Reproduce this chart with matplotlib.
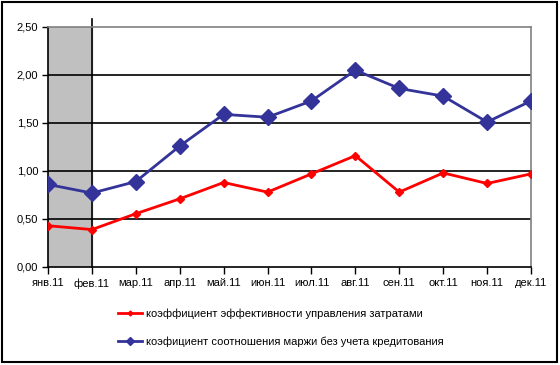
import matplotlib
matplotlib.use('Agg')
import matplotlib.pyplot as plt
from matplotlib.patches import Rectangle
from matplotlib.ticker import FuncFormatter, MultipleLocator

months = ['янв.11', 'фев.11', 'мар.11', 'апр.11', 'май.11', 'июн.11',
          'июл.11', 'авг.11', 'сен.11', 'окт.11', 'ноя.11', 'дек.11']
cost_eff = [0.43, 0.39, 0.555, 0.71, 0.88, 0.78, 0.97, 1.16, 0.78, 0.98, 0.87, 0.97]
margin_ratio = [0.86, 0.77, 0.89, 1.26, 1.59, 1.56, 1.73, 2.05, 1.86, 1.78, 1.51, 1.73]
label_red = 'коэффициент эффективности управления затратами'
label_blue = 'коэфициент соотношения маржи без учета кредитования'

plt.rcParams['font.family'] = ['Liberation Sans', 'DejaVu Sans']

fig = plt.figure(figsize=(5.6, 3.65), dpi=100)
ax = fig.add_axes([48 / 560, 1 - 267 / 365, (531 - 48) / 560, (267 - 27) / 365])

x = list(range(len(months)))

# shaded first period + separator line
ax.axvspan(0, 1, color='#c0c0c0', zorder=0)
ax.axvline(1, ymin=0, ymax=1.035, color='black', lw=1.2, clip_on=False, zorder=1)

for yv in [0.5, 1.0, 1.5, 2.0]:
    ax.axhline(yv, color='black', lw=1.2, zorder=1)

ax.plot(x, margin_ratio, color='#333399', lw=2, marker='D', ms=8,
        label=label_blue, zorder=3)
ax.plot(x, cost_eff, color='#ff0000', lw=2, marker='D', ms=4.5,
        label=label_red, zorder=3)

ax.set_xlim(0, len(months) - 1)
ax.set_ylim(0, 2.5)
ax.set_xticks(x)
ax.set_xticklabels(months)
ax.yaxis.set_major_locator(MultipleLocator(0.5))
ax.yaxis.set_major_formatter(FuncFormatter(lambda v, p: f'{v:.2f}'.replace('.', ',')))
ax.tick_params(axis='both', labelsize=8, direction='out', length=4, width=1, pad=3)
ax.tick_params(axis='x', length=5)

for s in ['left', 'bottom']:
    ax.spines[s].set_color('black')
    ax.spines[s].set_linewidth(1.2)
for s in ['top', 'right']:
    ax.spines[s].set_color('#808080')
    ax.spines[s].set_linewidth(1.2)

h, l = ax.get_legend_handles_labels()
leg = fig.legend(h[::-1], l[::-1], loc='center left', bbox_to_anchor=(118 / 560, 1 - 328 / 365),
                 frameon=False, fontsize=8, labelspacing=1.6, handlelength=2.2,
                 handletextpad=0.3, borderpad=0, borderaxespad=0, markerscale=0.55)

fig.patches.append(Rectangle((2 / 560, 3 / 365), 555 / 560, 360 / 365, transform=fig.transFigure,
                             fill=False, edgecolor='black', lw=1.5))

fig.savefig('out.png', dpi=100)
